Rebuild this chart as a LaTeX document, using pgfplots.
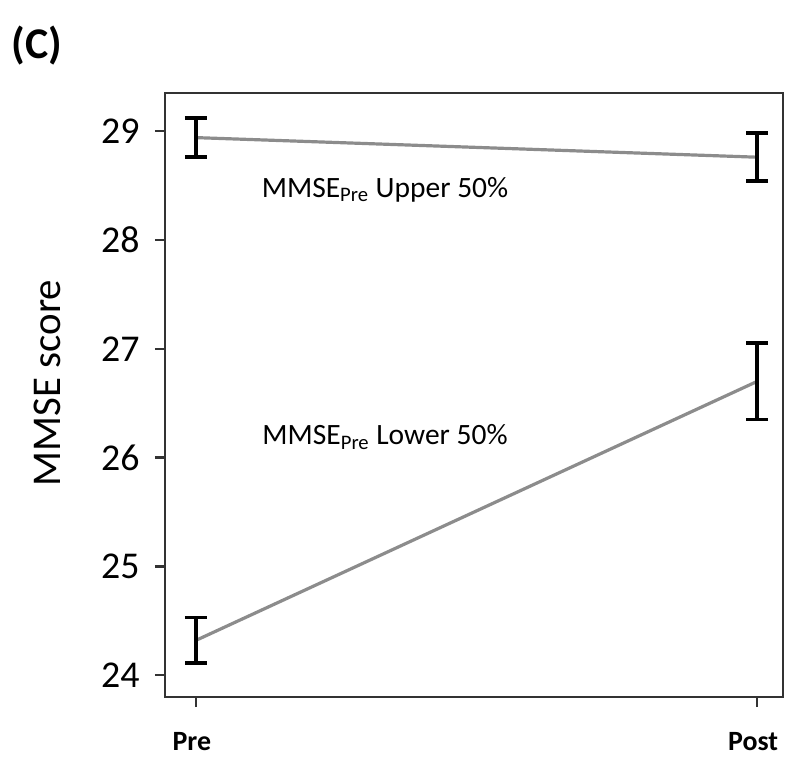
\documentclass[border=0pt]{standalone}
\usepackage{pgfplots}
\pgfplotsset{compat=1.18}
\usepackage{fontspec}
\setmainfont{Carlito}
\definecolor{linegray}{HTML}{8C8C8C}
\begin{document}
\begin{tikzpicture}
\path[use as bounding box] (0,0) rectangle (402.5bp,380.5bp);
\begin{axis}[
  at={(82.5bp,32bp)}, anchor=south west,
  width=309bp, height=302bp, scale only axis,
  xmin=-0.055, xmax=1.046, ymin=23.80, ymax=29.35,
  xtick={0,1}, xticklabels={Pre,Post},
  ytick={24,25,26,27,28,29},
  xtick pos=left, ytick pos=left, tick align=outside,
  major tick length=5bp,
  tick style={line width=1.1bp, black!80},
  axis line style={line width=1.3bp, black!80},
  /pgf/number format/assume math mode=true,
  yticklabel style={font=\fontsize{19}{22}\selectfont, inner sep=1bp, xshift=-6.5bp},
  xticklabel style={font=\fontsize{14}{16}\selectfont\bfseries, yshift=-9bp, xshift=-2bp},
  ylabel={MMSE score},
  ylabel style={at={(axis description cs:-0.191,0.52)}, anchor=center, font=\fontsize{20.5}{24}\selectfont},
  clip=false,
]
\addplot[linegray, line width=1.6bp,
  error bars/.cd, y dir=both, y explicit,
  error bar style={black, line width=2bp},
  error mark options={rotate=90, mark size=5.5bp, line width=1.8bp, black}]
  coordinates {(0,28.94) +- (0,0.18) (1,28.76) +- (0,0.22)};
\addplot[linegray, line width=1.6bp,
  error bars/.cd, y dir=both, y explicit,
  error bar style={black, line width=2bp},
  error mark options={rotate=90, mark size=5.5bp, line width=1.8bp, black}]
  coordinates {(0,24.32) +- (0,0.21) (1,26.70) +- (0,0.35)};
\node[font=\fontsize{14.8}{17}\selectfont] at (axis cs:0.337,28.46) {MMSE\textsubscript{Pre} Upper 50\%};
\node[font=\fontsize{14.8}{17}\selectfont] at (axis cs:0.337,26.19) {MMSE\textsubscript{Pre} Lower 50\%};
\node[font=\fontsize{22}{26}\selectfont\bfseries] at (axis description cs:-0.207,1.079) {(C)};
\end{axis}
\end{tikzpicture}
\end{document}
